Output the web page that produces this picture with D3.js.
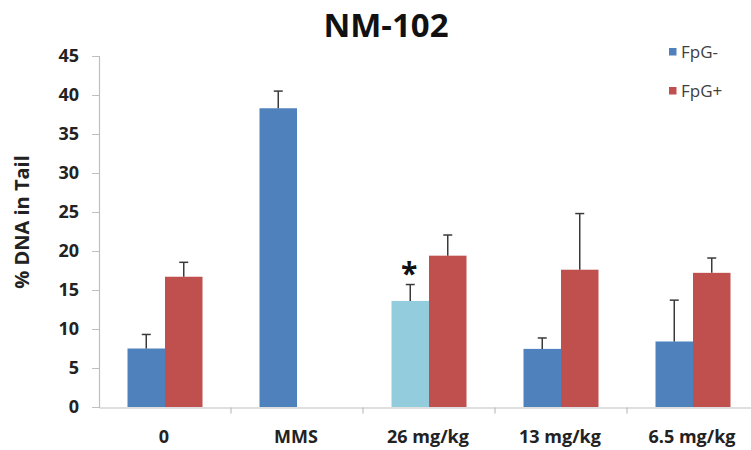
<!DOCTYPE html>
<html>
<head>
<meta charset="utf-8">
<script src="https://cdn.jsdelivr.net/npm/d3@7"></script>
<style>
  html, body { margin: 0; padding: 0; background: #fff; }
  svg { display: block; }
  text { font-family: "Open Sans", "DejaVu Sans", sans-serif; }
</style>
</head>
<body>
<svg id="chart" width="751" height="450"></svg>
<script>
// Comet assay, NM-102: % DNA in tail per treatment group
const categories = ["0", "MMS", "26 mg/kg", "13 mg/kg", "6.5 mg/kg"];
const seriesNames = ["FpG-", "FpG+"];
const fpgMinus = [7.5, 38.3, 13.6, 7.45, 8.4];
const fpgMinusErr = [1.8, 2.2, 2.1, 1.4, 5.3];
const fpgPlus = [16.7, null, 19.4, 17.6, 17.2];
const fpgPlusErr = [1.85, null, 2.65, 7.2, 1.9];
const significant = ["26 mg/kg"];
const yTicks = [0, 5, 10, 15, 20, 25, 30, 35, 40, 45];

const colors = { "FpG-": "#4F81BD", "FpG+": "#C0504D" };
const sigColor = "#93CDDD";

const svg = d3.select("#chart");

const x = d3.scaleBand().domain(categories).range([99, 759]).paddingInner(0).paddingOuter(0);
const xi = d3.scaleBand().domain(seriesNames).range([0, x.bandwidth()]).paddingInner(0).paddingOuter(0.76);
const y = d3.scaleLinear().domain([0, 45]).range([407, 56]);

const bars = [];
categories.forEach((c, i) => {
  bars.push({ cat: c, series: "FpG-", value: fpgMinus[i], err: fpgMinusErr[i] });
  if (fpgPlus[i] != null) bars.push({ cat: c, series: "FpG+", value: fpgPlus[i], err: fpgPlusErr[i] });
});

// y axis
const yAxis = d3.axisLeft(y).tickValues(yTicks).tickSize(7).tickPadding(13);
const gy = svg.append("g").attr("transform", "translate(99,0)").call(yAxis);
gy.select(".domain").attr("stroke", "#bfbfbf").attr("stroke-width", 1.2);
gy.selectAll(".tick line").attr("stroke", "#bfbfbf");
gy.selectAll(".tick text")
  .attr("fill", "#222").attr("font-size", 18).attr("font-weight", "bold")
  .attr("font-family", "'Open Sans', sans-serif");

// x axis
const xAxis = d3.axisBottom(x).tickSize(0).tickPadding(0).tickFormat("");
const gx = svg.append("g").attr("transform", "translate(0,407.5)").call(xAxis);
gx.select(".domain").attr("stroke", "#bfbfbf").attr("stroke-width", 1.2);
gx.selectAll(".tick").remove();
// tick marks on band boundaries
const bounds = categories.slice(1).map(c => x(c));
gx.selectAll("line.sep").data(bounds).join("line")
  .attr("class", "sep")
  .attr("x1", d => d).attr("x2", d => d)
  .attr("y1", 0).attr("y2", 6)
  .attr("stroke", "#bfbfbf").attr("stroke-width", 1.2);

// category labels
svg.append("g").selectAll("text").data(categories).join("text")
  .attr("x", d => x(d) + x.bandwidth() / 2 - 1)
  .attr("y", 443)
  .attr("text-anchor", "middle")
  .attr("font-size", 18).attr("font-weight", "bold").attr("fill", "#222")
  .text(d => d);

// bars
svg.append("g").selectAll("rect").data(bars).join("rect")
  .attr("x", d => x(d.cat) + xi(d.series))
  .attr("width", xi.bandwidth())
  .attr("y", d => y(d.value))
  .attr("height", d => y(0) - y(d.value))
  .attr("fill", d => (d.series === "FpG-" && significant.includes(d.cat)) ? sigColor : colors[d.series]);

// upper error bars
const eb = svg.append("g").attr("stroke", "#3a3a3a").attr("stroke-width", 1.5);
bars.forEach(d => {
  const cx = x(d.cat) + xi(d.series) + xi.bandwidth() / 2;
  eb.append("line").attr("x1", cx).attr("x2", cx).attr("y1", y(d.value)).attr("y2", y(d.value + d.err));
  eb.append("line").attr("x1", cx - 4.5).attr("x2", cx + 4.5).attr("y1", y(d.value + d.err)).attr("y2", y(d.value + d.err));
});

// significance marker
svg.append("g").selectAll("text").data(significant).join("text")
  .attr("x", d => x(d) + xi("FpG-") + xi.bandwidth() / 2 - 1)
  .attr("y", d => {
    const i = categories.indexOf(d);
    return y(fpgMinus[i] + fpgMinusErr[i]) - 1;
  })
  .attr("text-anchor", "middle")
  .attr("font-size", 30).attr("font-weight", "bold").attr("fill", "#111")
  .text("*");

// title
svg.append("text")
  .attr("x", 386).attr("y", 37)
  .attr("text-anchor", "middle")
  .attr("font-size", 33).attr("font-weight", "bold").attr("fill", "#111")
  .text("NM-102");

// y axis title
svg.append("text")
  .attr("transform", "translate(29,222) rotate(-90)")
  .attr("text-anchor", "middle")
  .attr("font-size", 20).attr("font-weight", "bold").attr("fill", "#222")
  .text("% DNA in Tail");

// legend
const legend = svg.append("g").selectAll("g").data(seriesNames).join("g")
  .attr("transform", (d, i) => `translate(669,${48 + i * 39})`);
legend.append("rect").attr("width", 7.5).attr("height", 7.5).attr("fill", d => colors[d]);
legend.append("text").attr("x", 12).attr("y", 4).attr("dy", "0.35em")
  .attr("font-size", 17).attr("fill", "#404040").text(d => d);
</script>
</body>
</html>
